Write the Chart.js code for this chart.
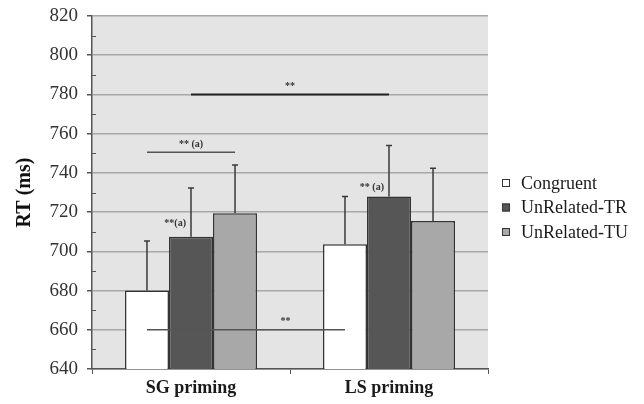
<!DOCTYPE html>
<html>
<head>
<meta charset="utf-8">
<script src="https://cdn.jsdelivr.net/npm/chart.js@4.4.1/dist/chart.umd.min.js"></script>
<style>
  html, body { margin: 0; padding: 0; background: #fff; }
  #wrap { width: 644px; height: 404px; }
</style>
</head>
<body>
<div id="wrap"><canvas id="rtChart" width="644" height="404"></canvas></div>
<script>
const categories = ["SG priming", "LS priming"];
const seriesNames = ["Congruent", "UnRelated-TR", "UnRelated-TU"];
const congruent = [680, 703.6];
const unrelatedTR = [707.5, 728];
const unrelatedTU = [719.4, 715.5];
// upper end of each error bar
const errCongruent = [705.3, 728];
const errTR = [732.3, 754];
const errTU = [744, 742.4];
const yTicks = [640, 660, 680, 700, 720, 740, 760, 780, 800, 820];

// significance lines: [category, series] at each end, y value, label
const sigLines = [
    { from: [0, 1], to: [1, 1], y: 780, text: "**", at: 0.5 },
    { from: [0, 0], to: [0, 2], y: 750.5, text: "** (a)", at: 0.5 },
    { from: [0, 0], to: [1, 0], y: 660, text: "**", at: 0.7 }
];
const sigLabels = [
    { cat: 0, series: 1, y: 714, text: "**(a)" },
    { cat: 1, series: 1, y: 732.5, text: "** (a)" }
];

const fillColors = ["#ffffff", "#565656", "#a8a8a8"];
const serif = "'Liberation Serif', 'DejaVu Serif', serif";

const extrasPlugin = {
    id: "extras",
    beforeDraw(chart) {
        const { ctx, chartArea: a } = chart;
        ctx.save();
        ctx.fillStyle = "#e4e4e4";
        ctx.fillRect(a.left, a.top, a.right - a.left, a.bottom - a.top);
        ctx.restore();
    },
    afterDatasetsDraw(chart) {
        const { ctx, chartArea: a } = chart;
        const y = chart.scales.y;
        const errs = [errCongruent, errTR, errTU];
        ctx.save();
        // error bars (upper only)
        ctx.strokeStyle = "#3a3a3a";
        ctx.lineWidth = 1.5;
        errs.forEach((e, di) => {
            chart.getDatasetMeta(di).data.forEach((bar, ci) => {
                const top = y.getPixelForValue(e[ci]);
                ctx.beginPath();
                ctx.moveTo(bar.x, bar.y);
                ctx.lineTo(bar.x, top);
                ctx.moveTo(bar.x - 3, top);
                ctx.lineTo(bar.x + 3, top);
                ctx.stroke();
            });
        });
        // minor ticks on the y axis
        ctx.strokeStyle = "#555";
        ctx.lineWidth = 1;
        for (let v = 650; v < 820; v += 20) {
            const py = Math.round(y.getPixelForValue(v)) + 0.5;
            ctx.beginPath();
            ctx.moveTo(a.left, py);
            ctx.lineTo(a.left + 4, py);
            ctx.stroke();
        }
        // significance lines
        ctx.fillStyle = "#333";
        ctx.textAlign = "center";
        ctx.textBaseline = "middle";
        ctx.font = "bold 10px " + serif;
        sigLines.forEach(s => {
            const x1 = chart.getDatasetMeta(s.from[1]).data[s.from[0]].x;
            const x2 = chart.getDatasetMeta(s.to[1]).data[s.to[0]].x;
            const py = y.getPixelForValue(s.y);
            ctx.strokeStyle = s.y > 770 ? "#222" : "#555";
            ctx.lineWidth = s.y > 770 ? 2 : 1.5;
            ctx.beginPath();
            ctx.moveTo(x1, py);
            ctx.lineTo(x2, py);
            ctx.stroke();
            ctx.fillText(s.text, x1 + (x2 - x1) * s.at, py - 8);
        });
        ctx.textAlign = "right";
        sigLabels.forEach(s => {
            const bar = chart.getDatasetMeta(s.series).data[s.cat];
            ctx.fillText(s.text, bar.x - 5, y.getPixelForValue(s.y));
        });
        ctx.restore();
    },
    afterDraw(chart) {
        const { ctx } = chart;
        ctx.save();
        ctx.font = "18px " + serif;
        ctx.textBaseline = "middle";
        chart.data.datasets.forEach((ds, i) => {
            const ly = 183 + i * 24.5;
            ctx.fillStyle = ds.backgroundColor;
            ctx.fillRect(502, ly - 4, 8, 8);
            ctx.strokeStyle = "#333";
            ctx.lineWidth = 1;
            ctx.strokeRect(502.5, ly - 3.5, 7, 7);
            ctx.fillStyle = "#1a1a1a";
            ctx.fillText(ds.label, 521, ly + 1);
        });
        ctx.restore();
    }
};

const ctx = document.getElementById("rtChart").getContext("2d");
new Chart(ctx, {
    type: "bar",
    data: {
        labels: categories,
        datasets: [congruent, unrelatedTR, unrelatedTU].map((d, i) => ({
            label: seriesNames[i],
            data: d,
            backgroundColor: fillColors[i],
            borderColor: "#333",
            borderWidth: 1.5,
            categoryPercentage: 0.667,
            barPercentage: 1.0
        }))
    },
    options: {
        responsive: false,
        animation: false,
        layout: { padding: { left: 0, right: 156, top: 16, bottom: 0 } },
        plugins: { legend: { display: false }, tooltip: { enabled: false } },
        scales: {
            x: {
                afterFit(scale) { scale.height = 35; scale.paddingLeft = 0; scale.paddingRight = 0; },
                grid: { drawOnChartArea: false, tickLength: 5, tickColor: "#555" },
                border: { color: "#555", width: 1.5 },
                ticks: {
                    color: "#1a1a1a",
                    padding: 4,
                    font: { family: serif, size: 18, weight: "bold" }
                }
            },
            y: {
                min: 640,
                max: 820,
                afterFit(scale) { scale.width = 92; scale.paddingTop = 0; scale.paddingBottom = 0; },
                afterBuildTicks(scale) { scale.ticks = yTicks.map(v => ({ value: v })); },
                grid: { color: "#a8a8a8", lineWidth: 1.5, tickLength: 5, tickColor: "#555" },
                border: { color: "#555", width: 1.5 },
                ticks: {
                    color: "#333",
                    padding: 9,
                    font: { family: serif, size: 19 }
                },
                title: {
                    display: true,
                    text: "RT (ms)",
                    color: "#111",
                    padding: { top: 13, bottom: 0 },
                    font: { family: serif, size: 20, weight: "bold" }
                }
            }
        }
    },
    plugins: [extrasPlugin]
});
</script>
</body>
</html>
